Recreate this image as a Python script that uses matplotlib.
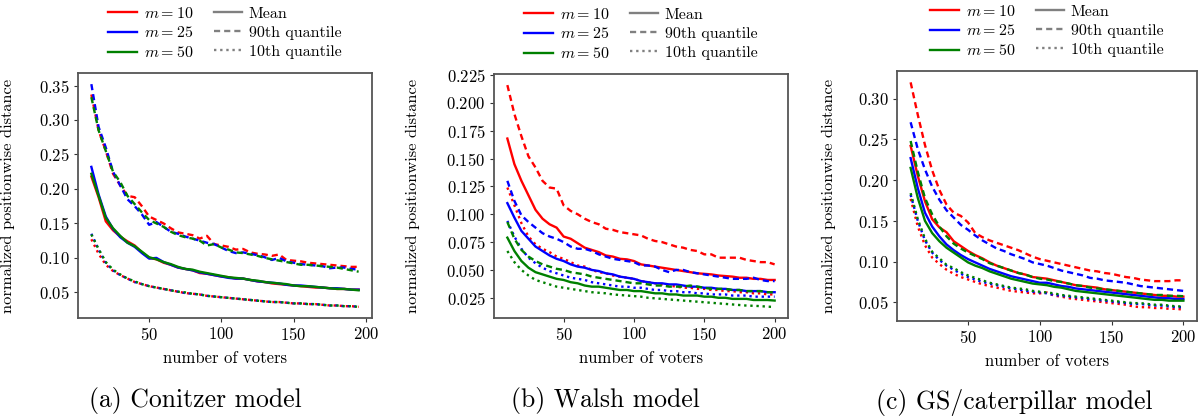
"""
Positionwise distance vs number of voters for three models (Conitzer, Walsh, GS/caterpillar).
"""
import matplotlib
matplotlib.use("Agg")
import matplotlib.pyplot as plt
from matplotlib.lines import Line2D
from matplotlib.ticker import MultipleLocator

plt.rcParams["font.family"] = "serif"
plt.rcParams["font.serif"] = ["cmr10"]
plt.rcParams["mathtext.fontset"] = "cm"
plt.rcParams["axes.unicode_minus"] = False
plt.rcParams["axes.formatter.use_mathtext"] = True

# --- datos ---
voters_a = list(range(10, 200, 5))   # 10..195
voters_bc = list(range(10, 205, 5))  # 10..200

m_values = [10, 25, 50]
colors = ["red", "blue", "green"]

# (a) Conitzer
mean_a = {
    10: [0.218, 0.188, 0.153, 0.140, 0.131, 0.124, 0.118, 0.108, 0.100, 0.098, 0.093, 0.090, 0.086,
         0.084, 0.082, 0.078, 0.077, 0.075, 0.073, 0.072, 0.070, 0.070, 0.068, 0.066, 0.065, 0.063,
         0.062, 0.061, 0.060, 0.059, 0.058, 0.057, 0.057, 0.056, 0.055, 0.055, 0.054, 0.054],
    25: [0.232, 0.192, 0.160, 0.142, 0.130, 0.122, 0.116, 0.107, 0.099, 0.100, 0.094, 0.090, 0.086,
         0.084, 0.082, 0.079, 0.077, 0.075, 0.073, 0.071, 0.070, 0.070, 0.068, 0.066, 0.065, 0.064,
         0.063, 0.061, 0.060, 0.060, 0.059, 0.058, 0.057, 0.056, 0.056, 0.055, 0.054, 0.054],
    50: [0.222, 0.190, 0.158, 0.143, 0.132, 0.122, 0.117, 0.109, 0.101, 0.098, 0.094, 0.091, 0.087,
         0.084, 0.083, 0.080, 0.078, 0.076, 0.074, 0.072, 0.071, 0.070, 0.068, 0.067, 0.065, 0.064,
         0.063, 0.062, 0.060, 0.059, 0.059, 0.058, 0.057, 0.056, 0.055, 0.055, 0.054, 0.053],
}
q90_a = {
    10: [0.337, 0.285, 0.255, 0.222, 0.205, 0.190, 0.188, 0.175, 0.160, 0.155, 0.150, 0.143, 0.137,
         0.135, 0.133, 0.128, 0.132, 0.120, 0.118, 0.116, 0.112, 0.113, 0.108, 0.106, 0.105, 0.103,
         0.105, 0.097, 0.096, 0.095, 0.093, 0.092, 0.091, 0.090, 0.089, 0.088, 0.087, 0.087],
    25: [0.352, 0.290, 0.260, 0.225, 0.205, 0.185, 0.175, 0.163, 0.148, 0.152, 0.145, 0.138, 0.135,
         0.131, 0.128, 0.125, 0.122, 0.120, 0.115, 0.110, 0.107, 0.108, 0.106, 0.104, 0.101, 0.097,
         0.100, 0.095, 0.093, 0.091, 0.090, 0.089, 0.088, 0.085, 0.086, 0.086, 0.084, 0.083],
    50: [0.333, 0.285, 0.255, 0.225, 0.210, 0.190, 0.178, 0.166, 0.155, 0.150, 0.145, 0.138, 0.133,
         0.130, 0.128, 0.125, 0.118, 0.120, 0.115, 0.112, 0.108, 0.107, 0.105, 0.103, 0.100, 0.098,
         0.096, 0.094, 0.092, 0.090, 0.090, 0.089, 0.088, 0.087, 0.086, 0.084, 0.082, 0.080],
}
q10_a = {
    10: [0.127, 0.106, 0.090, 0.081, 0.075, 0.070, 0.065, 0.062, 0.059, 0.057, 0.055, 0.053, 0.051,
         0.049, 0.048, 0.047, 0.045, 0.044, 0.043, 0.042, 0.041, 0.040, 0.039, 0.038, 0.037, 0.036,
         0.036, 0.035, 0.034, 0.034, 0.033, 0.033, 0.032, 0.031, 0.031, 0.030, 0.030, 0.029],
    25: [0.135, 0.112, 0.093, 0.082, 0.075, 0.070, 0.065, 0.062, 0.059, 0.057, 0.055, 0.053, 0.051,
         0.049, 0.048, 0.047, 0.045, 0.044, 0.043, 0.042, 0.041, 0.040, 0.039, 0.038, 0.037, 0.036,
         0.036, 0.035, 0.034, 0.034, 0.033, 0.033, 0.032, 0.031, 0.031, 0.030, 0.030, 0.029],
    50: [0.134, 0.113, 0.094, 0.083, 0.076, 0.070, 0.066, 0.062, 0.059, 0.057, 0.055, 0.053, 0.051,
         0.050, 0.048, 0.047, 0.045, 0.044, 0.043, 0.042, 0.041, 0.040, 0.039, 0.038, 0.037, 0.036,
         0.036, 0.035, 0.034, 0.034, 0.033, 0.033, 0.032, 0.031, 0.031, 0.030, 0.030, 0.029],
}

# (b) Walsh
mean_b = {
    10: [0.168, 0.145, 0.130, 0.117, 0.104, 0.096, 0.091, 0.088, 0.080, 0.078, 0.074, 0.070, 0.068,
         0.066, 0.063, 0.062, 0.060, 0.0595, 0.058, 0.055, 0.054, 0.053, 0.052, 0.051, 0.050, 0.049,
         0.048, 0.047, 0.0465, 0.046, 0.045, 0.0445, 0.044, 0.043, 0.043, 0.042, 0.042, 0.041, 0.041],
    25: [0.110, 0.097, 0.085, 0.078, 0.071, 0.067, 0.063, 0.060, 0.058, 0.055, 0.053, 0.052, 0.050,
         0.049, 0.047, 0.046, 0.044, 0.043, 0.042, 0.040, 0.039, 0.038, 0.038, 0.037, 0.037, 0.036,
         0.035, 0.035, 0.034, 0.034, 0.033, 0.033, 0.032, 0.032, 0.031, 0.031, 0.031, 0.030, 0.030],
    50: [0.079, 0.067, 0.058, 0.052, 0.048, 0.046, 0.044, 0.042, 0.041, 0.039, 0.038, 0.036, 0.035,
         0.035, 0.034, 0.033, 0.032, 0.032, 0.031, 0.031, 0.030, 0.029, 0.029, 0.028, 0.028, 0.027,
         0.027, 0.027, 0.026, 0.026, 0.025, 0.025, 0.024, 0.024, 0.024, 0.023, 0.023, 0.023, 0.0225],
}
q90_b = {
    10: [0.216, 0.190, 0.170, 0.152, 0.142, 0.130, 0.124, 0.123, 0.108, 0.103, 0.100, 0.096, 0.093,
         0.091, 0.087, 0.086, 0.084, 0.083, 0.082, 0.081, 0.078, 0.076, 0.075, 0.073, 0.071, 0.070,
         0.068, 0.067, 0.064, 0.064, 0.061, 0.061, 0.061, 0.061, 0.059, 0.058, 0.057, 0.057, 0.055],
    25: [0.130, 0.112, 0.099, 0.093, 0.088, 0.083, 0.080, 0.078, 0.075, 0.071, 0.069, 0.069, 0.067,
         0.064, 0.062, 0.060, 0.059, 0.058, 0.057, 0.054, 0.054, 0.053, 0.050, 0.048, 0.050, 0.050,
         0.048, 0.047, 0.046, 0.045, 0.044, 0.043, 0.042, 0.042, 0.042, 0.043, 0.041, 0.040, 0.040],
    50: [0.093, 0.078, 0.068, 0.062, 0.058, 0.055, 0.053, 0.051, 0.050, 0.048, 0.047, 0.046, 0.044,
         0.043, 0.042, 0.041, 0.040, 0.039, 0.038, 0.038, 0.037, 0.036, 0.036, 0.035, 0.035, 0.035,
         0.036, 0.035, 0.034, 0.033, 0.033, 0.033, 0.032, 0.032, 0.031, 0.031, 0.031, 0.030, 0.030],
}
q10_b = {
    10: [0.124, 0.108, 0.092, 0.080, 0.073, 0.069, 0.066, 0.062, 0.060, 0.057, 0.054, 0.053, 0.050,
         0.048, 0.047, 0.045, 0.044, 0.043, 0.042, 0.040, 0.039, 0.038, 0.037, 0.036, 0.035, 0.034,
         0.034, 0.033, 0.033, 0.032, 0.032, 0.031, 0.031, 0.030, 0.030, 0.029, 0.029, 0.028, 0.028],
    25: [0.094, 0.080, 0.069, 0.061, 0.056, 0.052, 0.049, 0.047, 0.045, 0.043, 0.042, 0.041, 0.039,
         0.038, 0.037, 0.036, 0.035, 0.035, 0.034, 0.034, 0.033, 0.032, 0.032, 0.031, 0.031, 0.030,
         0.030, 0.029, 0.029, 0.028, 0.028, 0.028, 0.027, 0.027, 0.027, 0.026, 0.026, 0.026, 0.026],
    50: [0.067, 0.057, 0.050, 0.045, 0.041, 0.039, 0.037, 0.035, 0.034, 0.033, 0.032, 0.031, 0.030,
         0.0295, 0.029, 0.028, 0.0275, 0.027, 0.0265, 0.026, 0.025, 0.0245, 0.024, 0.0235, 0.023,
         0.0225, 0.022, 0.0215, 0.021, 0.0205, 0.020, 0.0195, 0.019, 0.0185, 0.018, 0.0178, 0.0175,
         0.017, 0.0168],
}

# (c) GS/caterpillar
mean_c = {
    10: [0.242, 0.205, 0.174, 0.152, 0.142, 0.136, 0.125, 0.119, 0.113, 0.108, 0.104, 0.099, 0.095,
         0.092, 0.089, 0.086, 0.084, 0.081, 0.080, 0.079, 0.077, 0.075, 0.073, 0.071, 0.070, 0.069,
         0.068, 0.066, 0.065, 0.064, 0.063, 0.062, 0.061, 0.060, 0.059, 0.058, 0.058, 0.057, 0.057],
    25: [0.227, 0.190, 0.160, 0.143, 0.131, 0.121, 0.114, 0.108, 0.103, 0.099, 0.095, 0.091, 0.088,
         0.085, 0.082, 0.080, 0.078, 0.076, 0.074, 0.074, 0.072, 0.070, 0.069, 0.067, 0.066, 0.065,
         0.064, 0.063, 0.062, 0.061, 0.060, 0.059, 0.058, 0.057, 0.056, 0.055, 0.055, 0.054, 0.054],
    50: [0.215, 0.178, 0.150, 0.135, 0.125, 0.117, 0.111, 0.105, 0.099, 0.095, 0.092, 0.088, 0.085,
         0.082, 0.079, 0.077, 0.075, 0.073, 0.072, 0.071, 0.069, 0.068, 0.066, 0.064, 0.063, 0.062,
         0.061, 0.060, 0.059, 0.058, 0.057, 0.056, 0.055, 0.054, 0.053, 0.053, 0.052, 0.052, 0.052],
}
q90_c = {
    10: [0.320, 0.280, 0.243, 0.212, 0.188, 0.170, 0.160, 0.156, 0.148, 0.135, 0.130, 0.126, 0.123,
         0.120, 0.117, 0.114, 0.110, 0.106, 0.103, 0.101, 0.099, 0.097, 0.095, 0.093, 0.091, 0.089,
         0.088, 0.086, 0.085, 0.083, 0.081, 0.080, 0.078, 0.077, 0.076, 0.076, 0.076, 0.077, 0.077],
    25: [0.271, 0.238, 0.213, 0.192, 0.176, 0.163, 0.154, 0.145, 0.139, 0.132, 0.126, 0.121, 0.116,
         0.113, 0.109, 0.106, 0.103, 0.099, 0.097, 0.095, 0.092, 0.089, 0.087, 0.085, 0.083, 0.080,
         0.079, 0.077, 0.076, 0.075, 0.074, 0.072, 0.070, 0.069, 0.068, 0.067, 0.066, 0.065, 0.064],
    50: [0.248, 0.210, 0.178, 0.158, 0.143, 0.131, 0.122, 0.116, 0.111, 0.107, 0.103, 0.098, 0.095,
         0.092, 0.089, 0.086, 0.084, 0.081, 0.079, 0.078, 0.076, 0.075, 0.073, 0.071, 0.070, 0.068,
         0.067, 0.066, 0.065, 0.064, 0.063, 0.062, 0.061, 0.060, 0.059, 0.059, 0.058, 0.058, 0.0575],
}
q10_c = {
    10: [0.177, 0.143, 0.120, 0.105, 0.097, 0.090, 0.085, 0.081, 0.078, 0.075, 0.072, 0.070, 0.068,
         0.066, 0.064, 0.063, 0.062, 0.061, 0.061, 0.062, 0.058, 0.057, 0.055, 0.054, 0.053, 0.052,
         0.051, 0.050, 0.049, 0.048, 0.047, 0.045, 0.044, 0.044, 0.043, 0.043, 0.042, 0.042, 0.041],
    25: [0.182, 0.150, 0.126, 0.111, 0.102, 0.095, 0.090, 0.085, 0.081, 0.078, 0.075, 0.073, 0.071,
         0.069, 0.067, 0.066, 0.064, 0.063, 0.062, 0.061, 0.059, 0.058, 0.057, 0.056, 0.055, 0.054,
         0.053, 0.052, 0.051, 0.050, 0.049, 0.048, 0.048, 0.047, 0.046, 0.046, 0.045, 0.044, 0.044],
    50: [0.184, 0.152, 0.128, 0.112, 0.104, 0.096, 0.092, 0.087, 0.083, 0.080, 0.077, 0.074, 0.072,
         0.070, 0.068, 0.067, 0.066, 0.064, 0.063, 0.062, 0.061, 0.059, 0.058, 0.057, 0.056, 0.055,
         0.054, 0.053, 0.052, 0.051, 0.050, 0.049, 0.049, 0.048, 0.047, 0.047, 0.046, 0.045, 0.045],
}

panels = [
    ("(a) Conitzer model", voters_a, mean_a, q90_a, q10_a, 0.05),
    ("(b) Walsh model", voters_bc, mean_b, q90_b, q10_b, 0.025),
    ("(c) GS/caterpillar model", voters_bc, mean_c, q90_c, q10_c, 0.05),
]

# posiciones en pixeles de la referencia (izq, arriba, der, abajo)
W, H = 1203, 417
boxes = [(78, 73, 372, 318), (494, 74, 788, 318), (897, 71, 1197, 321)]
ylabel_x = [-0.214, -0.252, -0.203]
caption_xy = [(195, 400), (605, 400), (1014, 403)]

DASHED = (0, (2.6, 1.7))
DOTTED = (0, (1, 1.6))

fig = plt.figure(figsize=(W / 100, H / 100), dpi=100)

for (caption, xs, means, q90s, q10s, step), (l, t, r, b), ylx, (cx, cy) in zip(
        panels, boxes, ylabel_x, caption_xy):
    ax = fig.add_axes([l / W, 1 - b / H, (r - l) / W, (b - t) / H])
    for m, c in zip(m_values, colors):
        ax.plot(xs, means[m], color=c, lw=1.7, ls="-")
        ax.plot(xs, q90s[m], color=c, lw=1.7, ls=DASHED)
        ax.plot(xs, q10s[m], color=c, lw=1.7, ls=DOTTED)

    ax.yaxis.set_major_locator(MultipleLocator(step))
    ax.xaxis.set_major_locator(MultipleLocator(50))
    ax.set_xlim(xs[0] - 0.05 * (xs[-1] - xs[0]), xs[-1] + 0.05 * (xs[-1] - xs[0]))
    ax.tick_params(labelsize=12, length=3, width=0.8, color="#333333", pad=3)
    for sp in ax.spines.values():
        sp.set_color("#555555")
        sp.set_linewidth(1.3)

    ax.set_xlabel("number of voters", fontsize=12, labelpad=5)
    ax.set_ylabel("normalized positionwise distance", fontsize=11.8)
    ax.yaxis.set_label_coords(ylx, 0.5)

    handles = [
        Line2D([0], [0], color="red", lw=1.7),
        Line2D([0], [0], color="blue", lw=1.7),
        Line2D([0], [0], color="green", lw=1.7),
        Line2D([0], [0], color="gray", lw=1.7, ls="-"),
        Line2D([0], [0], color="gray", lw=1.7, ls=DASHED),
        Line2D([0], [0], color="gray", lw=1.7, ls=DOTTED),
    ]
    labels = ["$m = 10$", "$m = 25$", "$m = 50$", "Mean", "90th quantile", "10th quantile"]
    ax.legend(handles, labels, ncol=2, loc="lower center", bbox_to_anchor=(0.5, 1.0),
              frameon=False, fontsize=11.5, handlelength=1.8, handletextpad=0.4,
              columnspacing=1.3, labelspacing=0.3, borderpad=0.3)

    fig.text(cx / W, 1 - cy / H, caption, fontsize=18.5, ha="center", va="center")

fig.savefig("out.png", dpi=100)
